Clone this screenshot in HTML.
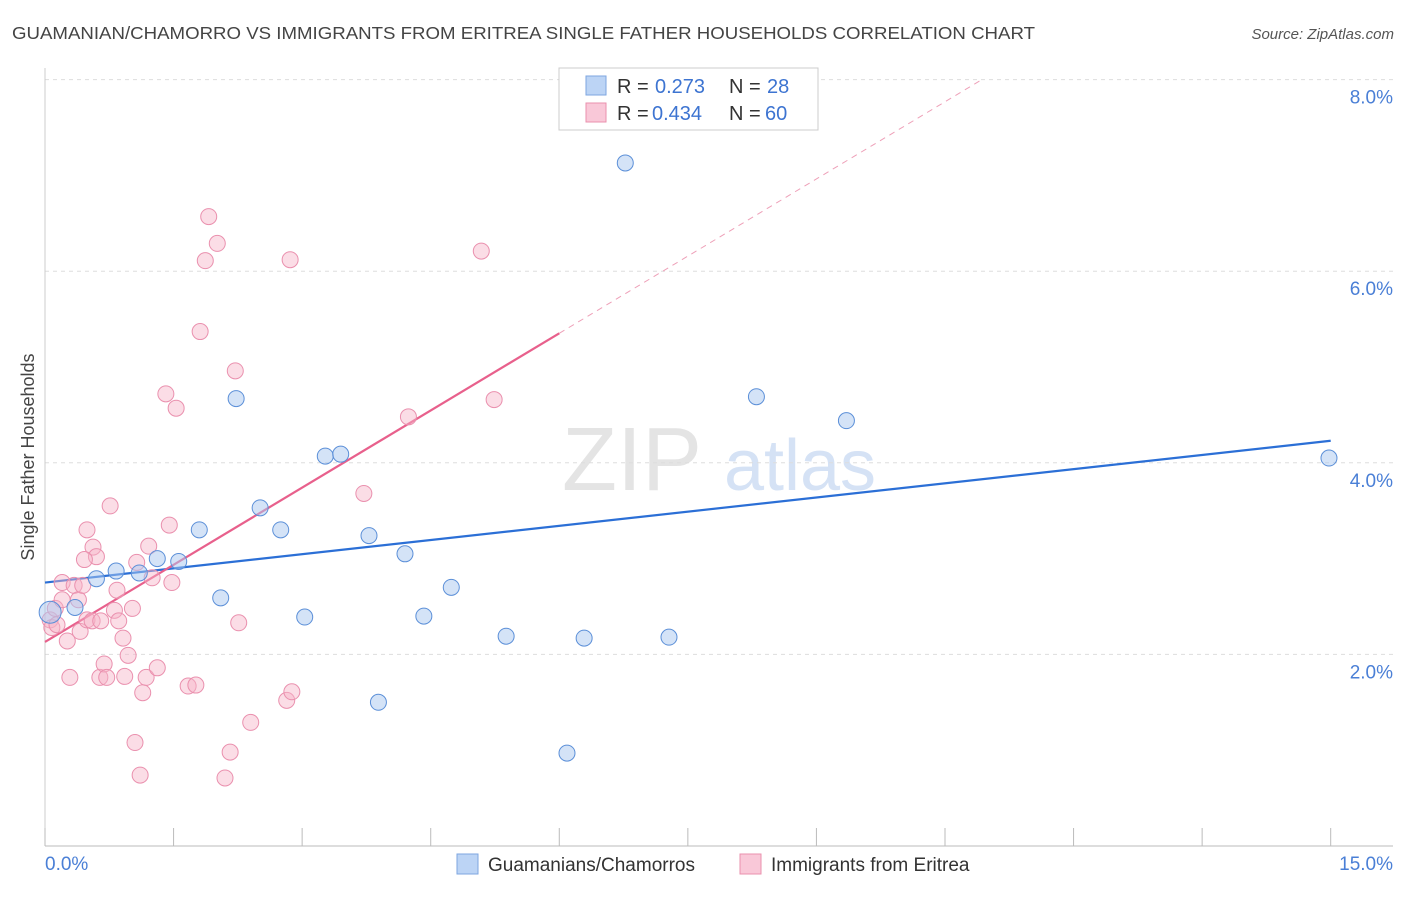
<!DOCTYPE html>
<html><head><meta charset="utf-8">
<style>
body{margin:0;background:#fff;font-family:"Liberation Sans",sans-serif;}
svg text{font-family:"Liberation Sans",sans-serif;}
</style></head>
<body>
<svg id="chart" width="1406" height="892" xmlns="http://www.w3.org/2000/svg">
<text x="12" y="39" font-size="17.5" fill="#444" textLength="1023" lengthAdjust="spacingAndGlyphs">GUAMANIAN/CHAMORRO VS IMMIGRANTS FROM ERITREA SINGLE FATHER HOUSEHOLDS CORRELATION CHART</text>
<text x="1394" y="39" font-size="15" fill="#555" font-style="italic" text-anchor="end">Source: ZipAtlas.com</text>
<text x="0" y="0" transform="translate(34,457) rotate(-90)" font-size="18" fill="#444" text-anchor="middle">Single Father Households</text>
<g><text x="632" y="490" font-size="90" fill="#e4e4e4" font-family="Liberation Serif" text-anchor="middle">ZIP</text><text x="800" y="490" font-size="72" fill="#d5e2f5" text-anchor="middle">atlas</text></g>
<g id="grid"></g><g id="axes"></g><g id="trend"></g><g id="pts"></g>
<g>
<rect x="559" y="68" width="259" height="62" fill="#fff" stroke="#ccc"/>
<rect x="586" y="76" width="20" height="19" fill="#bcd4f5" stroke="#7ea6e0"/>
<text y="93" font-size="20" fill="#333"><tspan x="617">R =</tspan><tspan x="655" fill="#3d74d1">0.273</tspan><tspan x="729">N =</tspan><tspan x="767" fill="#3d74d1">28</tspan></text>
<rect x="586" y="103" width="20" height="19" fill="#f9c8d8" stroke="#ea90ae"/>
<text y="120" font-size="20" fill="#333"><tspan x="617">R =</tspan><tspan x="652" fill="#3d74d1">0.434</tspan><tspan x="729">N =</tspan><tspan x="765" fill="#3d74d1">60</tspan></text>
</g>
<g>
<rect x="457" y="854" width="21" height="20" fill="#bcd4f5" stroke="#7ea6e0"/>
<text x="488" y="871" font-size="19" fill="#333">Guamanians/Chamorros</text>
<rect x="740" y="854" width="21" height="20" fill="#f9c8d8" stroke="#ea90ae"/>
<text x="771" y="871" font-size="19" fill="#333">Immigrants from Eritrea</text>
</g>
</svg>
<script>
const yTicks=[2,4,6,8];
const yTickLabels=["2.0%","4.0%","6.0%","8.0%"];
const xTickCount=10;
const xEndLabels=["0.0%","15.0%"];
const blueX=[0.06,0.35,0.60,0.83,1.10,1.31,1.56,1.80,2.05,2.23,2.51,2.75,3.03,3.27,3.45,3.78,3.89,4.20,4.42,4.74,5.38,6.09,6.29,6.77,7.28,8.30,9.35,14.98];
const blueY=[2.44,2.49,2.79,2.87,2.85,3.00,2.97,3.30,2.59,4.67,3.53,3.30,2.39,4.07,4.09,3.24,1.50,3.05,2.40,2.70,2.19,0.97,2.17,7.13,2.18,4.69,4.44,4.05];
const pinkX=[0.06,0.12,0.08,0.14,0.20,0.26,0.29,0.20,0.34,0.39,0.41,0.44,0.49,0.49,0.56,0.60,0.55,0.64,0.69,0.72,0.65,0.76,0.81,0.84,0.86,0.91,0.93,0.97,1.02,1.05,1.07,1.11,1.14,1.18,1.21,1.25,1.31,1.45,1.48,1.41,1.53,1.67,1.76,1.81,1.87,1.91,2.01,2.10,2.16,2.22,2.26,2.40,2.82,2.88,2.86,3.72,4.24,5.09,5.24,0.46];
const pinkY=[2.36,2.48,2.28,2.31,2.57,2.14,1.76,2.75,2.72,2.57,2.24,2.72,2.36,3.30,3.12,3.02,2.35,1.76,1.90,1.76,2.35,3.55,2.46,2.67,2.35,2.17,1.77,1.99,2.48,1.08,2.96,0.74,1.60,1.76,3.13,2.80,1.86,3.35,2.75,4.72,4.57,1.67,1.68,5.37,6.11,6.57,6.29,0.71,0.98,4.96,2.33,1.29,1.52,1.61,6.12,3.68,4.48,6.21,4.66,2.99];
const blueTrend=[2.75,4.23];
const pinkTrend=[2.13,0.537];
const NS="http://www.w3.org/2000/svg";
const X=v=>45+v/15*1285.7, Y=v=>846-v*95.8;
function mk(tag,attrs,parent){const e=document.createElementNS(NS,tag);for(const k in attrs)e.setAttribute(k,attrs[k]);document.getElementById(parent).appendChild(e);return e;}
yTicks.forEach((t,i)=>{
 const l=mk('line',{x1:45,x2:1393,y1:Y(t),y2:Y(t),stroke:'#ddd','stroke-dasharray':'4,4'},'grid');
 
 
 const tx=mk('text',{x:1393,y:Y(t)+24,'font-size':19,fill:'#4a7fd6','text-anchor':'end'},'axes');
 tx.textContent=yTickLabels[i];
 
 
});
const ax=mk('line',{x1:45,x2:1393,y1:846,y2:846,stroke:'#bbb'},'axes');


const ay=mk('line',{x1:45,x2:45,y1:68,y2:846,stroke:'#ccc'},'axes');


for(let i=0;i<=xTickCount;i++){
 const t=mk('line',{x1:X(i*1.5),x2:X(i*1.5),y1:828,y2:846,stroke:'#bbb'},'axes');
 
 
}
const l0=mk('text',{x:45,y:870,'font-size':19,fill:'#4a7fd6'},'axes');l0.textContent=xEndLabels[0];


const l1=mk('text',{x:1393,y:870,'font-size':19,fill:'#4a7fd6','text-anchor':'end'},'axes');l1.textContent=xEndLabels[1];


pinkX.forEach((x,i)=>{
 const c=mk('circle',{cx:X(x),cy:Y(pinkY[i]),r:8,fill:'rgba(247,180,200,0.45)',stroke:'#ea90ae','stroke-width':1},'pts');
 
 
});
blueX.forEach((x,i)=>{
 const c=mk('circle',{cx:X(x),cy:Y(blueY[i]),r:i==0?11:8,fill:'rgba(170,200,240,0.5)',stroke:'#5b8fd8','stroke-width':1},'pts');
 
 
});
const bt=mk('line',{x1:X(0),y1:Y(blueTrend[0]),x2:X(15),y2:Y(blueTrend[1]),stroke:'#2b6fd6','stroke-width':2.2},'trend');


const pEnd=(8-pinkTrend[0])/pinkTrend[1];
const ps=mk('line',{x1:X(0),y1:Y(pinkTrend[0]),x2:X(6),y2:Y(pinkTrend[0]+6*pinkTrend[1]),stroke:'#e8608c','stroke-width':2.2},'trend');


const pd=mk('line',{x1:X(6),y1:Y(pinkTrend[0]+6*pinkTrend[1]),x2:X(pEnd),y2:Y(8),stroke:'#eea0b8','stroke-width':1,'stroke-dasharray':'6,5'},'trend');


</script>
</body></html>
